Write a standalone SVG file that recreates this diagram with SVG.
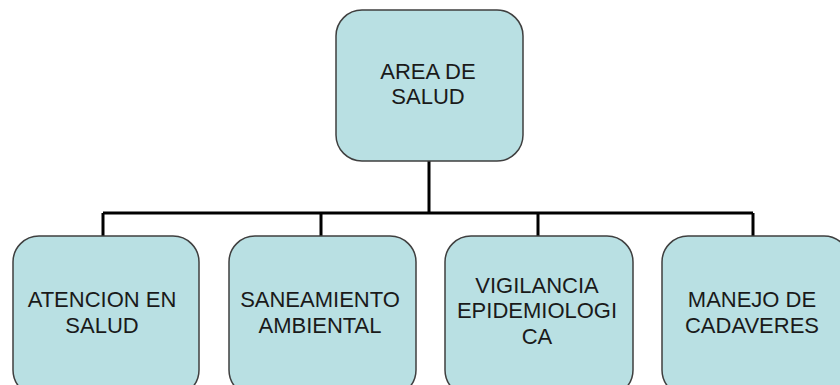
<svg xmlns="http://www.w3.org/2000/svg" width="840" height="385" viewBox="0 0 840 385">
<style>
.box{fill:#b9e0e3;stroke:#3f3f3f;stroke-width:1.5}
.t{font-family:"Liberation Sans",Arial,sans-serif;font-size:22px;fill:#1a1a1a;text-anchor:middle}
.c{fill:none;stroke:#000;stroke-width:3}
</style>
<rect width="840" height="385" fill="#fff"/>
<g id="connectors">
<path class="c" d="M429 161V213M103 213H753M103 213V236M321 213V236M538 213V236M753 213V236"/>
</g>
<g id="n0"><rect class="box" x="336" y="10" width="187" height="151" rx="26"/>
<text class="t" x="428" y="79">AREA DE</text><text class="t" x="428" y="104">SALUD</text></g>
<g id="n1"><rect class="box" x="13" y="236" width="186" height="160" rx="26"/>
<text class="t" x="102" y="307">ATENCION EN</text><text class="t" x="102" y="333">SALUD</text></g>
<g id="n2"><rect class="box" x="229" y="236" width="187" height="160" rx="26"/>
<text class="t" x="320" y="307">SANEAMIENTO</text><text class="t" x="320" y="333">AMBIENTAL</text></g>
<g id="n3"><rect class="box" x="445" y="236" width="188" height="160" rx="26"/>
<text class="t" x="537" y="293">VIGILANCIA</text><text class="t" x="537" y="318">EPIDEMIOLOGI</text><text class="t" x="537" y="344">CA</text></g>
<g id="n4"><rect class="box" x="662" y="236" width="188" height="160" rx="26"/>
<text class="t" x="752" y="307">MANEJO DE</text><text class="t" x="752" y="333">CADAVERES</text></g>
</svg>
